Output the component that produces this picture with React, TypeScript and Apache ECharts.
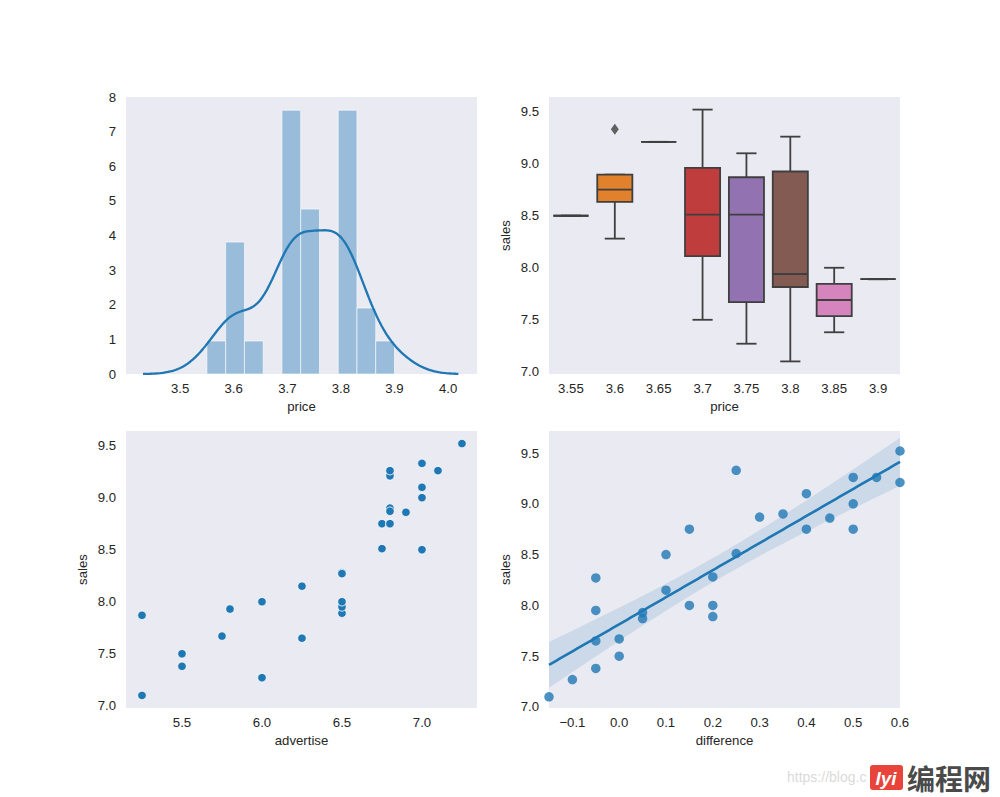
import React, { useEffect, useRef } from "react";
import * as echarts from "echarts";

// ---- data (one row per observation) ----
const price = [3.85, 3.75, 3.7, 3.7, 3.6, 3.6, 3.6, 3.8, 3.8, 3.85, 3.9, 3.7, 3.75, 3.7, 3.8, 3.75, 3.7, 3.8, 3.7, 3.8, 3.8, 3.75, 3.7, 3.55, 3.6, 3.65, 3.7, 3.75, 3.8, 3.8];
const difference = [-0.05, 0.25, 0.6, 0.0, 0.25, 0.2, 0.15, 0.05, -0.15, 0.15, 0.2, 0.1, 0.4, 0.45, 0.35, 0.3, 0.5, 0.5, 0.4, -0.05, -0.05, -0.1, 0.2, 0.1, 0.5, 0.6, -0.05, 0.0, 0.05, 0.55];
const advertise = [5.5, 6.75, 7.25, 5.5, 7.0, 6.5, 6.75, 5.25, 5.25, 6.0, 6.5, 6.25, 7.0, 6.9, 6.8, 6.8, 7.1, 7.0, 6.8, 6.5, 6.25, 6.0, 6.5, 7.0, 6.8, 6.8, 6.5, 5.75, 5.8, 6.8];
const sales = [7.38, 8.51, 9.52, 7.5, 9.33, 8.28, 8.75, 7.87, 7.1, 8.0, 7.89, 8.15, 9.1, 8.86, 8.9, 8.87, 9.26, 9.0, 8.75, 7.95, 7.65, 7.27, 8.0, 8.5, 8.75, 9.21, 8.27, 7.67, 7.93, 9.26];

// ---- categories & ticks ----
const priceCats = ["3.55", "3.6", "3.65", "3.7", "3.75", "3.8", "3.85", "3.9"];
const histXTicks = [3.5, 3.6, 3.7, 3.8, 3.9, 4.0];
const salesTicks = [7.0, 7.5, 8.0, 8.5, 9.0, 9.5];
const advTicks = [5.5, 6.0, 6.5, 7.0];
const diffTicks = [-0.1, 0.0, 0.1, 0.2, 0.3, 0.4, 0.5, 0.6];

// ---- styling constants ----
const HIST_BINS = 10;
const KDE_GRID = 128;
const KDE_CUT = 3;
const BOX_COLORS = ["#3274a1", "#e1812c", "#3a923a", "#c03d3e", "#9372b2", "#845b53", "#d684bd", "#7f7f7f"];
const EDGE = "#3f3f3f";
const BLUE = "#1f77b4";
const BG = "#EAEAF2";
const TXT = "#262626";
const FONT = "'Liberation Sans', Arial, sans-serif";
const FS = 13.2;

// ---- statistics ----
const n = price.length;
const mean = (a: number[]) => a.reduce((s, v) => s + v, 0) / a.length;
const pct = (s: number[], q: number) => {
  const pos = (s.length - 1) * q;
  const lo = Math.floor(pos);
  const hi = Math.ceil(pos);
  return s[lo] + (s[hi] - s[lo]) * (pos - lo);
};

// histogram (density)
const pMin = Math.min(...price);
const pMax = Math.max(...price);
const binW = (pMax - pMin) / HIST_BINS;
const counts = new Array(HIST_BINS).fill(0);
price.forEach((p) => {
  let b = Math.floor((p - pMin) / binW + 1e-9);
  if (b >= HIST_BINS) b = HIST_BINS - 1;
  counts[b]++;
});
const histData = counts
  .map((c, i) => [pMin + i * binW, pMin + (i + 1) * binW, c / (n * binW)])
  .filter((d) => d[2] > 0);

// KDE (gaussian, scott rule with robust sigma, linearly binned grid)
const pm = mean(price);
const pStd = Math.sqrt(price.reduce((s, v) => s + (v - pm) ** 2, 0) / (n - 1));
const pSorted = [...price].sort((a, b) => a - b);
const pIqr = pct(pSorted, 0.75) - pct(pSorted, 0.25);
const bw = 1.059 * Math.min(pStd, pIqr / 1.349) * Math.pow(n, -1 / 5);
const kLo = pMin - KDE_CUT * bw;
const kHi = pMax + KDE_CUT * bw;
const kDelta = (kHi - kLo) / (KDE_GRID - 1);
const binned = new Array(KDE_GRID + 2).fill(0);
price.forEach((p) => {
  const lxi = (p - kLo) / kDelta + 1;
  const li = Math.floor(lxi);
  const rem = lxi - li;
  binned[li] += 1 - rem;
  binned[li + 1] += rem;
});
const kdeData: number[][] = [];
for (let i = 0; i < KDE_GRID; i++) {
  const x = kLo + i * kDelta;
  let s = 0;
  for (let j = 0; j < KDE_GRID; j++) {
    if (!binned[j]) continue;
    const u = (x - (kLo + j * kDelta)) / bw;
    s += binned[j] * Math.exp(-0.5 * u * u);
  }
  kdeData.push([x, s / (n * bw * Math.sqrt(2 * Math.PI))]);
}

// box stats
const boxData: number[][] = [];
const outliers: number[][] = [];
priceCats.forEach((c, ci) => {
  const v = sales.filter((_, i) => Math.abs(price[i] - parseFloat(c)) < 1e-6).sort((a, b) => a - b);
  const q1 = pct(v, 0.25);
  const med = pct(v, 0.5);
  const q3 = pct(v, 0.75);
  const iqr = q3 - q1;
  const inside = v.filter((x) => x >= q1 - 1.5 * iqr - 1e-9 && x <= q3 + 1.5 * iqr + 1e-9);
  const lo = Math.min(Math.min(...inside), q1);
  const hi = Math.max(Math.max(...inside), q3);
  boxData.push([ci, lo, q1, med, q3, hi]);
  v.filter((x) => x < q1 - 1.5 * iqr - 1e-9 || x > q3 + 1.5 * iqr + 1e-9).forEach((o) => outliers.push([ci, o]));
});

// regression of sales on difference
const dm = mean(difference);
const sm = mean(sales);
let sxx = 0;
let sxy = 0;
difference.forEach((d, i) => {
  sxx += (d - dm) ** 2;
  sxy += (d - dm) * (sales[i] - sm);
});
const slope = sxy / sxx;
const icpt = sm - slope * dm;
let sse = 0;
difference.forEach((d, i) => {
  sse += (sales[i] - (icpt + slope * d)) ** 2;
});
const sErr = Math.sqrt(sse / (n - 2));
const T95 = 2.048;
const DIFF_MIN = -0.15;
const DIFF_MAX = 0.6;
const regX: number[] = [];
for (let i = 0; i < 100; i++) regX.push(DIFF_MIN + ((DIFF_MAX - DIFF_MIN) * i) / 99);
const regLine = regX.map((x) => [x, icpt + slope * x]);
const regBand = regX.map((x) => {
  const y = icpt + slope * x;
  const h = T95 * sErr * Math.sqrt(1 / n + (x - dm) ** 2 / sxx);
  return [x, y - h, y + h];
});

// ---- axis helpers ----
const labelStyle = { color: TXT, fontSize: FS, fontFamily: FONT };
const fmt1 = (v: number) => (v < -1e-9 ? "\u2212" + Math.abs(v).toFixed(1) : Math.abs(v).toFixed(1));

function valAxis(gridIndex: number, min: number, max: number, ticks: number[] | null, name: string, isY: boolean, interval?: number) {
  const axisLabel: any = { ...labelStyle, margin: isY ? 10 : 8, formatter: (v: number) => (interval === 1 ? String(v) : fmt1(v)) };
  if (ticks) axisLabel.customValues = ticks;
  return {
    type: "value",
    gridIndex,
    min,
    max,
    interval,
    name,
    nameLocation: "middle",
    nameGap: isY ? 37 : 26,
    nameTextStyle: { color: TXT, fontSize: FS, fontFamily: FONT },
    axisLine: { show: false },
    axisTick: { show: false },
    splitLine: { show: false },
    axisLabel,
  };
}

const grids = [
  { left: 126, top: 97, width: 351, height: 277 },
  { left: 549, top: 97, width: 351, height: 277 },
  { left: 126, top: 431, width: 351, height: 277 },
  { left: 549, top: 431, width: 351, height: 277 },
].map((g) => ({ ...g, show: true, backgroundColor: BG, borderWidth: 0 }));

const option: any = {
  animation: false,
  textStyle: { fontFamily: FONT },
  grid: grids,
  xAxis: [
    valAxis(0, 3.399, 4.054, histXTicks, "price", false),
    {
      type: "category",
      gridIndex: 1,
      data: priceCats,
      name: "price",
      nameLocation: "middle",
      nameGap: 26,
      nameTextStyle: { color: TXT, fontSize: FS, fontFamily: FONT },
      axisLine: { show: false },
      axisTick: { show: false },
      splitLine: { show: false },
      axisLabel: { ...labelStyle, margin: 8 },
    },
    valAxis(2, 5.15, 7.344, advTicks, "advertise", false),
    valAxis(3, DIFF_MIN, DIFF_MAX, diffTicks, "difference", false),
  ],
  yAxis: [
    valAxis(0, 0, 8, null, "", true, 1),
    valAxis(1, 6.979, 9.641, salesTicks, "sales", true),
    valAxis(2, 6.979, 9.641, salesTicks, "sales", true),
    valAxis(3, 6.99, 9.717, salesTicks, "sales", true),
  ],
  series: [
    {
      type: "custom",
      xAxisIndex: 0,
      yAxisIndex: 0,
      data: histData,
      encode: { x: [0, 1], y: 2 },
      renderItem: (_p: any, api: any) => {
        const a = api.coord([api.value(0), api.value(2)]);
        const b = api.coord([api.value(1), 0]);
        return {
          type: "rect",
          shape: { x: a[0], y: a[1], width: b[0] - a[0], height: b[1] - a[1] },
          style: { fill: "rgba(31,119,180,0.4)", stroke: "rgba(255,255,255,0.6)", lineWidth: 1 },
        };
      },
    },
    {
      type: "line",
      xAxisIndex: 0,
      yAxisIndex: 0,
      data: kdeData,
      symbol: "none",
      lineStyle: { color: BLUE, width: 2.3 },
    },
    {
      type: "custom",
      xAxisIndex: 1,
      yAxisIndex: 1,
      data: boxData,
      encode: { x: 0, y: [1, 2, 3, 4, 5] },
      renderItem: (params: any, api: any) => {
        const i = api.value(0);
        const c = api.coord([i, api.value(3)]);
        const x = c[0];
        const yLo = api.coord([i, api.value(1)])[1];
        const yQ1 = api.coord([i, api.value(2)])[1];
        const yMed = c[1];
        const yQ3 = api.coord([i, api.value(4)])[1];
        const yHi = api.coord([i, api.value(5)])[1];
        const band = api.size([1, 0])[0];
        const hw = band * 0.4;
        const cw = band * 0.23;
        const st = { stroke: EDGE, lineWidth: 1.8 };
        return {
          type: "group",
          children: [
            { type: "line", shape: { x1: x, y1: yQ1, x2: x, y2: yLo }, style: st },
            { type: "line", shape: { x1: x, y1: yQ3, x2: x, y2: yHi }, style: st },
            { type: "line", shape: { x1: x - cw, y1: yLo, x2: x + cw, y2: yLo }, style: st },
            { type: "line", shape: { x1: x - cw, y1: yHi, x2: x + cw, y2: yHi }, style: st },
            {
              type: "rect",
              shape: { x: x - hw, y: yQ3, width: 2 * hw, height: yQ1 - yQ3 },
              style: { fill: BOX_COLORS[params.dataIndex], stroke: EDGE, lineWidth: 1.8 },
            },
            { type: "line", shape: { x1: x - hw, y1: yMed, x2: x + hw, y2: yMed }, style: st },
          ],
        };
      },
    },
    {
      type: "scatter",
      xAxisIndex: 1,
      yAxisIndex: 1,
      data: outliers,
      symbol: "diamond",
      symbolSize: [8, 11],
      itemStyle: { color: EDGE },
    },
    {
      type: "scatter",
      xAxisIndex: 2,
      yAxisIndex: 2,
      data: advertise.map((a, i) => [a, sales[i]]),
      symbolSize: 8.5,
      itemStyle: { color: BLUE, borderColor: "#ffffff", borderWidth: 0.8, opacity: 1 },
    },
    {
      type: "scatter",
      xAxisIndex: 3,
      yAxisIndex: 3,
      data: difference.map((d, i) => [d, sales[i]]),
      symbolSize: 9.5,
      clip: true,
      itemStyle: { color: BLUE, opacity: 0.8 },
    },
    {
      type: "custom",
      xAxisIndex: 3,
      yAxisIndex: 3,
      clip: true,
      data: [regLine[0]],
      encode: { x: 0, y: 1 },
      renderItem: (_p: any, api: any) => {
        const upper = regBand.map((d) => api.coord([d[0], d[2]]));
        const lower = regBand.map((d) => api.coord([d[0], d[1]])).reverse();
        return {
          type: "polygon",
          shape: { points: upper.concat(lower) },
          style: { fill: "rgba(31,119,180,0.15)" },
        };
      },
    },
    {
      type: "line",
      xAxisIndex: 3,
      yAxisIndex: 3,
      data: regLine,
      symbol: "none",
      lineStyle: { color: BLUE, width: 2.6 },
    },
  ],
  graphic: [
    {
      type: "text",
      x: 787,
      y: 777,
      style: { text: "https://blog.c", fill: "#dadada", font: "14px 'Liberation Sans'", textVerticalAlign: "middle" },
    },
    {
      type: "rect",
      shape: { x: 870, y: 765, width: 33, height: 25, r: 3 },
      style: { fill: "#e8443b" },
    },
    {
      type: "text",
      x: 886,
      y: 778,
      style: { text: "lyi", fill: "#ffffff", font: "italic bold 19px 'Liberation Sans'", textAlign: "center", textVerticalAlign: "middle" },
    },
    {
      type: "text",
      x: 907,
      y: 778,
      style: { text: "编程网", fill: "#4a4a4a", font: "bold 28px 'Noto Sans CJK SC'", textVerticalAlign: "middle" },
    },
  ],
};

export default function App() {
  const ref = useRef<HTMLDivElement>(null);
  useEffect(() => {
    const chart = echarts.init(ref.current as HTMLDivElement, null, { renderer: "svg" });
    chart.setOption(option);
    return () => chart.dispose();
  }, []);
  return (
    <div
      ref={ref}
      style={{ position: "absolute", left: 0, top: 0, width: 1000, height: 797, background: "#ffffff" }}
    />
  );
}
